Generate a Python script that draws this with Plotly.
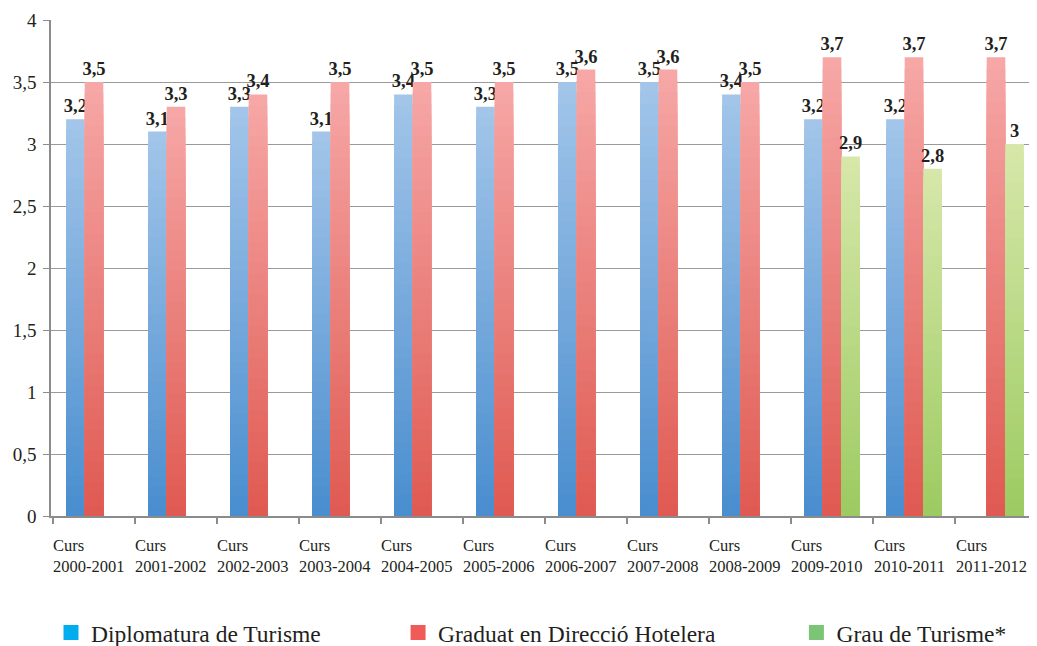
import plotly.graph_objects as go

categories = ["2000-2001", "2001-2002", "2002-2003", "2003-2004", "2004-2005", "2005-2006",
              "2006-2007", "2007-2008", "2008-2009", "2009-2010", "2010-2011", "2011-2012"]
diplomatura = [3.2, 3.1, 3.3, 3.1, 3.4, 3.3, 3.5, 3.5, 3.4, 3.2, 3.2, None]
graduat = [3.5, 3.3, 3.4, 3.5, 3.5, 3.5, 3.6, 3.6, 3.5, 3.7, 3.7, 3.7]
grau = [None, None, None, None, None, None, None, None, None, 2.9, 2.8, 3.0]
series_names = ["Diplomatura de Turisme", "Graduat en Direcció Hotelera", "Grau de Turisme*"]

FONT = "'Liberation Serif', 'DejaVu Serif', 'Times New Roman', serif"
N_STEPS = 40


def hex_to_rgb(h):
    h = h.lstrip("#")
    return tuple(int(h[i:i + 2], 16) for i in (0, 2, 4))


def mix(c1, c2, t):
    a, b = hex_to_rgb(c1), hex_to_rgb(c2)
    return "rgb(%d,%d,%d)" % tuple(round(a[i] + (b[i] - a[i]) * t) for i in range(3))


def fmt(v):
    return "" if v is None else f"{v:g}".replace(".", ",")


series = [
    (series_names[0], diplomatura, "#a2c5e9", "#4a8ecf", "#00aeef", "legend"),
    (series_names[1], graduat, "#f6a7a6", "#df5a52", "#f05a57", "legend2"),
    (series_names[2], grau, "#d6e7a9", "#9dcb62", "#7cc576", "legend3"),
]

fig = go.Figure()
for idx, (name, vals, top_c, bot_c, leg_c, leg) in enumerate(series):
    og = f"g{idx}"
    fig.add_trace(go.Bar(
        x=categories, y=vals, offsetgroup=og, name=name, showlegend=False,
        marker=dict(color=top_c, line=dict(width=0)),
        text=[fmt(v) for v in vals], textposition="outside", constraintext="none",
        textfont=dict(family=FONT, size=18.5, color="#231f20", weight="bold"),
        cliponaxis=False, hoverinfo="x+y",
    ))
    for k in range(1, N_STEPS):
        frac = 1 - k / N_STEPS
        fig.add_trace(go.Bar(
            x=categories, y=[None if v is None else v * frac for v in vals],
            offsetgroup=og, showlegend=False, hoverinfo="skip",
            marker=dict(color=mix(top_c, bot_c, k / (N_STEPS - 1)), line=dict(width=0)),
        ))
    fig.add_trace(go.Bar(
        x=[categories[0]], y=[None], offsetgroup=og, name=name, legend=leg,
        marker=dict(color=leg_c, line=dict(color=leg_c, width=3)),
        showlegend=True, hoverinfo="skip",
    ))

for c in categories:
    fig.add_annotation(
        x=c, y=0, xref="x", yref="y", yanchor="top", xanchor="center",
        text="Curs<br>" + c, align="left", showarrow=False, yshift=-18, xshift=-5,
        font=dict(family=FONT, size=16.5, color="#231f20"),
    )

legend_common = dict(orientation="h", yanchor="middle", xanchor="left", yref="container", y=0.021,
                     font=dict(family=FONT, size=23.5, color="#231f20"),
                     bgcolor="rgba(0,0,0,0)", itemclick=False)

# the page body has an 8px margin, so the figure is sized/offset to compensate
fig.update_layout(
    width=1029, height=638,
    margin=dict(l=43, r=0, t=12, b=130, autoexpand=False),
    paper_bgcolor="white", plot_bgcolor="white",
    barmode="group", bargap=0.32, bargroupgap=0,
    separators=", ",
    font=dict(family=FONT, color="#231f20"),
    xaxis=dict(
        type="category", showticklabels=False, tickson="boundaries",
        ticks="outside", ticklen=6, tickcolor="#8c8c8c", tickwidth=1.5,
        showline=True, linecolor="#8c8c8c", linewidth=1.5, showgrid=False,
    ),
    yaxis=dict(
        range=[0, 4], dtick=0.5, tick0=0, showgrid=True, gridcolor="#9a9a9a", gridwidth=1,
        showline=True, linecolor="#8c8c8c", linewidth=1.5, ticks="outside", ticklen=6,
        tickcolor="#8c8c8c", tickfont=dict(family=FONT, size=19, color="#231f20"),
        ticklabelstandoff=3, zeroline=False,
    ),
    legend=dict(x=0.0, **legend_common),
    legend2=dict(x=0.352, **legend_common),
    legend3=dict(x=0.756, **legend_common),
)

fig.write_html("out.html")
